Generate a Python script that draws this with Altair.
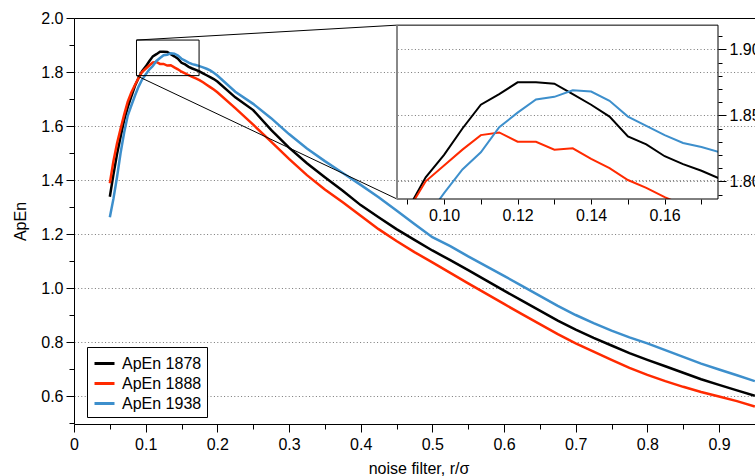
import altair as alt
import pandas as pd

# ---------------- data ----------------
r_sigma = [0.050, 0.055, 0.060, 0.065, 0.070, 0.075, 0.080, 0.085, 0.090, 0.095,
           0.100, 0.105, 0.110, 0.115, 0.120, 0.125, 0.130, 0.135, 0.140, 0.145,
           0.150, 0.155, 0.160, 0.165, 0.170, 0.175, 0.180, 0.185, 0.190, 0.195,
           0.200, 0.225, 0.250, 0.275, 0.300, 0.325, 0.350, 0.375, 0.400, 0.425,
           0.450, 0.475, 0.500, 0.525, 0.550, 0.575, 0.600, 0.625, 0.650, 0.675,
           0.700, 0.725, 0.750, 0.775, 0.800, 0.825, 0.850, 0.875, 0.900, 0.925,
           0.950]

apen_1878 = [1.338, 1.420, 1.495, 1.560, 1.622, 1.670, 1.710, 1.748, 1.778, 1.803,
             1.820, 1.840, 1.858, 1.866, 1.875, 1.875, 1.874, 1.866, 1.858, 1.849,
             1.834, 1.828, 1.819, 1.813, 1.808, 1.802, 1.795, 1.788, 1.781, 1.774,
             1.765, 1.706, 1.659, 1.586, 1.520, 1.462, 1.410, 1.360, 1.307, 1.262,
             1.218, 1.178, 1.139, 1.103, 1.066, 1.028, 0.990, 0.953, 0.916, 0.879,
             0.846, 0.815, 0.787, 0.759, 0.734, 0.710, 0.686, 0.662, 0.641, 0.621,
             0.601]

apen_1888 = [1.388, 1.470, 1.535, 1.590, 1.642, 1.690, 1.724, 1.752, 1.777, 1.800,
             1.812, 1.824, 1.835, 1.837, 1.830, 1.830, 1.824, 1.825, 1.817, 1.810,
             1.801, 1.795, 1.788, 1.782, 1.776, 1.770, 1.762, 1.753, 1.744, 1.735,
             1.725, 1.666, 1.605, 1.542, 1.478, 1.418, 1.365, 1.318, 1.268, 1.218,
             1.174, 1.133, 1.095, 1.056, 1.017, 0.979, 0.941, 0.903, 0.866, 0.829,
             0.795, 0.764, 0.734, 0.704, 0.678, 0.655, 0.634, 0.615, 0.598, 0.581,
             0.561]

apen_1938 = [1.262, 1.330, 1.410, 1.500, 1.576, 1.639, 1.676, 1.712, 1.745, 1.772,
             1.791, 1.809, 1.822, 1.841, 1.852, 1.862, 1.864, 1.869, 1.868, 1.861,
             1.849, 1.842, 1.835, 1.829, 1.826, 1.822, 1.817, 1.812, 1.806, 1.797,
             1.787, 1.727, 1.682, 1.629, 1.570, 1.517, 1.470, 1.426, 1.382, 1.336,
             1.287, 1.237, 1.188, 1.155, 1.117, 1.081, 1.045, 1.008, 0.971, 0.934,
             0.900, 0.870, 0.842, 0.817, 0.795, 0.770, 0.745, 0.720, 0.698, 0.677,
             0.655]

series_names = ["ApEn 1878", "ApEn 1888", "ApEn 1938"]
series_colors = ["#000000", "#ff2a00", "#3d8fcc"]

main_x_major = [0.0, 0.1, 0.2, 0.3, 0.4, 0.5, 0.6, 0.7, 0.8, 0.9]
main_x_minor = [0.05, 0.15, 0.25, 0.35, 0.45, 0.55, 0.65, 0.75, 0.85, 0.95]
main_y_major = [0.6, 0.8, 1.0, 1.2, 1.4, 1.6, 1.8, 2.0]
main_y_minor = [0.5, 0.7, 0.9, 1.1, 1.3, 1.5, 1.7, 1.9]
inset_x_ticks = [0.09, 0.10, 0.11, 0.12, 0.13, 0.14, 0.15, 0.16, 0.17]
inset_y_major = [1.80, 1.85, 1.90]
inset_y_minor = [1.79, 1.81, 1.82, 1.83, 1.84, 1.86, 1.87, 1.88, 1.89, 1.91]

zoom_x = [0.0872, 0.1745]      # zoomed window (x)
zoom_y = [1.7866, 1.9183]      # zoomed window (y)

# ---------------- layout ----------------
FONT = "Liberation Sans"
MAIN_W, MAIN_H = 689, 406
X_MAX = MAIN_W / 716.7
Y_MIN = 2.0 - MAIN_H / 270.0
INSET_LEFT = 323
INSET_W = 321
INSET_H = 181
INSET_PX_PER_Y = 1320.0
INSET_Y_TOP = zoom_y[0] + INSET_H / INSET_PX_PER_Y
FRAME_TOP_PX = INSET_H - (zoom_y[1] - zoom_y[0]) * INSET_PX_PER_Y

rows = []
for name, vals in zip(series_names, [apen_1878, apen_1888, apen_1938]):
    for x, y in zip(r_sigma, vals):
        rows.append({"r": x, "apen": y, "series": name})
df = pd.DataFrame(rows)
box_df = pd.DataFrame([{"x1": zoom_x[0], "x2": zoom_x[1], "y1": zoom_y[0], "y2": zoom_y[1]}])

color_scale = alt.Scale(domain=series_names, range=series_colors)
color = alt.Color(
    "series:N",
    scale=color_scale,
    legend=alt.Legend(
        title=None, orient="none", legendX=13, legendY=329,
        strokeColor="black", fillColor="white", padding=5,
        symbolType="stroke", symbolSize=400, symbolStrokeWidth=3,
        symbolOffset=1, labelFontSize=16, labelFont=FONT, labelColor="black",
        labelOffset=6, rowPadding=0,
    ),
)

grid_dash = [1, 2.4]
common = dict(labelFontSize=16, labelFont=FONT, labelColor="black",
              tickColor="black", domainColor="black")

# ---------------- main panel ----------------
mx = alt.Scale(domain=[0, X_MAX], nice=False, zero=False)
my = alt.Scale(domain=[Y_MIN, 2.0], nice=False, zero=False)

main_x_axis = alt.Axis(
    values=main_x_major, title="noise filter, r/\u03c3", grid=False, orient="bottom",
    labelExpr="datum.value == 0 ? '0' : format(datum.value, '.1f')",
    tickSize=8, labelFlush=False, labelOverlap=False, labelPadding=4,
    titleFontSize=16, titleFont=FONT, titleFontWeight="normal", titleColor="black",
    titlePadding=8, **common,
)
main_y_axis = alt.Axis(
    values=main_y_major, title="ApEn", orient="left", format=".1f",
    tickSize=8, grid=True, gridDash=grid_dash, gridColor="#777777",
    labelOverlap=False, labelPadding=3,
    titleFontSize=16, titleFont=FONT, titleFontWeight="normal", titleColor="black",
    titlePadding=12, **common,
)
minor_x_axis = alt.Axis(values=main_x_minor, orient="bottom", title=None, labels=False,
                        domain=False, grid=False, tickSize=5, tickColor="black")
minor_y_axis = alt.Axis(values=main_y_minor, orient="left", title=None, labels=False,
                        domain=False, grid=False, tickSize=5, tickColor="black")
top_axis = alt.Axis(orient="top", title=None, labels=False, ticks=False, grid=False,
                    domain=True, domainColor="black")

main_lines = alt.Chart(df).mark_line(strokeWidth=2.5, clip=True).encode(
    x=alt.X("r:Q", scale=mx, axis=main_x_axis),
    y=alt.Y("apen:Q", scale=my, axis=main_y_axis),
    color=color,
)
main_minor = alt.Chart(df).mark_point(opacity=0).encode(
    x=alt.X("r:Q", scale=mx, axis=minor_x_axis),
    y=alt.Y("apen:Q", scale=my, axis=minor_y_axis),
)
main_top = alt.Chart(df).mark_point(opacity=0).encode(
    x=alt.X("r:Q", scale=mx, axis=top_axis),
)
main_box = alt.Chart(box_df).mark_rect(fillOpacity=0, stroke="black", strokeWidth=1).encode(
    x=alt.X("x1:Q", scale=mx, axis=None), x2="x2:Q",
    y=alt.Y("y1:Q", scale=my, axis=None), y2="y2:Q",
)
conn_top = alt.Chart(box_df).mark_rule(stroke="black", strokeWidth=1).encode(
    x=alt.X("x1:Q", scale=mx, axis=None), y=alt.Y("y2:Q", scale=my, axis=None),
    x2=alt.value(INSET_LEFT), y2=alt.value(FRAME_TOP_PX),
)
conn_bot = alt.Chart(box_df).mark_rule(stroke="black", strokeWidth=1).encode(
    x=alt.X("x1:Q", scale=mx, axis=None), y=alt.Y("y1:Q", scale=my, axis=None),
    x2=alt.value(INSET_LEFT), y2=alt.value(INSET_H),
)
main = alt.layer(main_lines, main_minor, main_top, main_box, conn_top, conn_bot).resolve_axis(
    x="independent", y="independent"
).properties(width=MAIN_W, height=MAIN_H)

# ---------------- inset panel ----------------
ix = alt.Scale(domain=zoom_x, nice=False, zero=False)
iy = alt.Scale(domain=[zoom_y[0], INSET_Y_TOP], nice=False, zero=False)

inset_x_axis = alt.Axis(
    values=inset_x_ticks, title=None, grid=False, domain=False, orient="bottom",
    labelExpr="round(datum.value*100) % 2 == 0 ? format(datum.value, '.2f') : ''",
    tickSize=5, labelFlush=False, labelOverlap=False, labelPadding=3, **common,
)
inset_y_axis = alt.Axis(
    values=inset_y_major, title=None, orient="right", domain=False, format=".2f",
    tickSize=8, grid=True, gridDash=grid_dash, gridColor="#777777",
    labelOverlap=False, labelPadding=3, **common,
)
inset_y_minor_axis = alt.Axis(values=inset_y_minor, orient="right", title=None, labels=False,
                              domain=False, grid=False, tickSize=4, tickColor="black")

inset_lines = alt.Chart(df).mark_line(strokeWidth=2, clip=True).encode(
    x=alt.X("r:Q", scale=ix, axis=inset_x_axis),
    y=alt.Y("apen:Q", scale=iy, axis=inset_y_axis),
    color=alt.Color("series:N", scale=color_scale, legend=None),
)
inset_minor = alt.Chart(df).mark_point(opacity=0, clip=True).encode(
    x=alt.X("r:Q", scale=ix, axis=None),
    y=alt.Y("apen:Q", scale=iy, axis=inset_y_minor_axis),
)
inset_box = alt.Chart(box_df).mark_rect(fillOpacity=0, stroke="black", strokeWidth=1).encode(
    x=alt.X("x1:Q", scale=ix, axis=None), x2="x2:Q",
    y=alt.Y("y1:Q", scale=iy, axis=None), y2="y2:Q",
)
inset_left_edge = alt.Chart(box_df).mark_rule(stroke="#888888", strokeWidth=2).encode(
    x=alt.X("x1:Q", scale=ix, axis=None),
    y=alt.Y("y1:Q", scale=iy, axis=None), y2="y2:Q",
)
inset = alt.layer(inset_lines, inset_minor, inset_box, inset_left_edge).resolve_axis(
    x="independent", y="independent"
).properties(width=INSET_W, height=INSET_H)

chart = alt.concat(
    main, inset, columns=2, align="none", bounds="flush",
    spacing=INSET_LEFT - MAIN_W,
).properties(
    autosize=alt.AutoSizeParams(type="none"),
    padding={"left": 74, "top": 18, "right": 681, "bottom": 458},
).configure_view(strokeWidth=0)

chart.save("out.html", embed_options={"renderer": "svg", "actions": False})
